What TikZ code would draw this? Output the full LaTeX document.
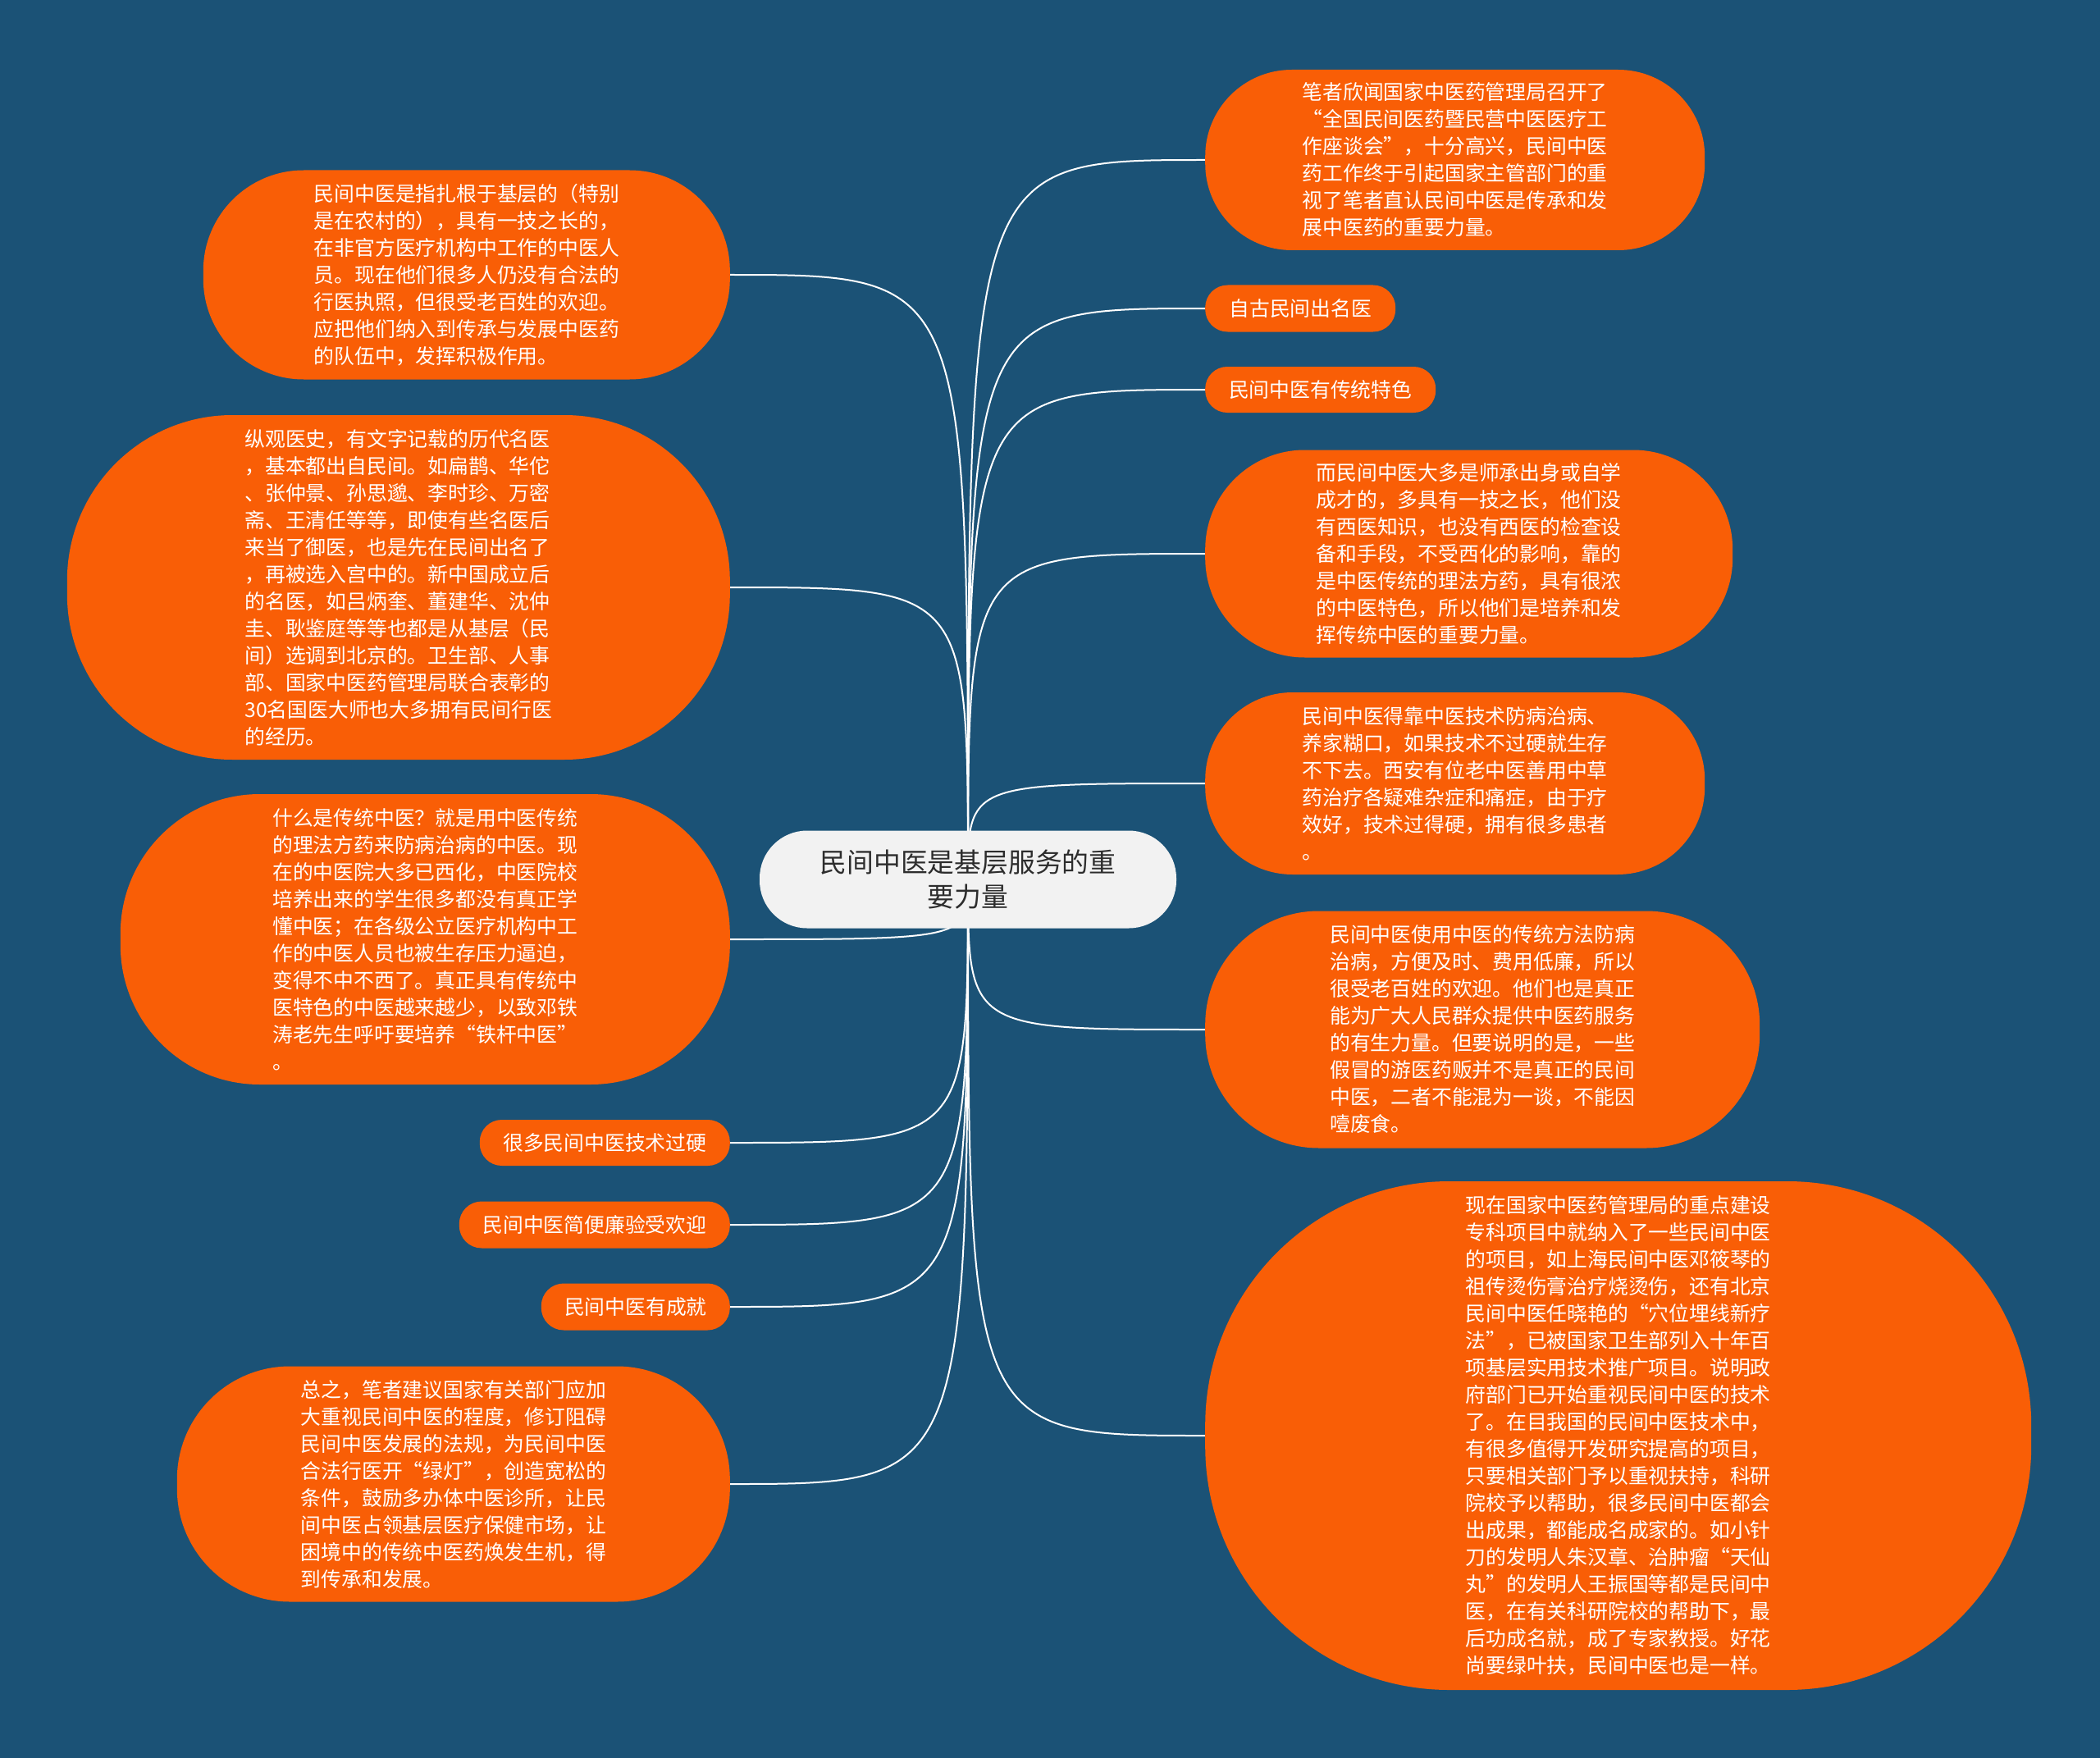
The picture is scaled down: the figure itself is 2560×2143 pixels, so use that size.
\documentclass[tikz,border=0pt]{standalone}
\usepackage{fontspec}
\setmainfont{Noto Sans CJK SC}
\usepackage{tikz}
\usepackage{xcolor}
\definecolor{bgblue}{RGB}{27,82,118}
\definecolor{leaforange}{RGB}{249,94,6}
\definecolor{rootgray}{RGB}{242,242,242}
\definecolor{roottext}{RGB}{45,45,45}
\newcommand{\leaffont}{\fontsize{24.8}{33}\selectfont}
\newcommand{\rootfont}{\fontsize{32.8}{42}\selectfont}
\pgfdeclarelayer{back}
\pgfsetlayers{back,main}

\begin{document}
\begin{tikzpicture}[x=1pt,y=-1pt,
  leaf/.style={fill=leaforange, text=white, font=\leaffont, align=left, inner sep=0pt},
  pill/.style 2 args={minimum width=#1pt, minimum height=#2pt, rounded corners=0.48*#2pt},
  link/.style={draw=white, line width=2pt}]
\useasboundingbox (0,0) rectangle (2560,2143);
% root
\node[fill=rootgray, text=roottext, font=\rootfont, align=center, inner sep=0pt,
  minimum width=508pt, minimum height=119pt, rounded corners=58pt] (root) at (1180,1072)
  {民间中医是基层服务的重\\要力量};
% left branches
\node[leaf, pill={642}{255}, anchor=east] (l1) at (890,335) {民间中医是指扎根于基层的（特别\\
是在农村的），具有一技之长的，\\
在非官方医疗机构中工作的中医人\\
员。现在他们很多人仍没有合法的\\
行医执照，但很受老百姓的欢迎。\\
应把他们纳入到传承与发展中医药\\
的队伍中，发挥积极作用。};
\node[leaf, pill={808}{420}, anchor=east] (l2) at (890,716) {纵观医史，有文字记载的历代名医\\
，基本都出自民间。如扁鹊、华佗\\
、张仲景、孙思邈、李时珍、万密\\
斋、王清任等等，即使有些名医后\\
来当了御医，也是先在民间出名了\\
，再被选入宫中的。新中国成立后\\
的名医，如吕炳奎、董建华、沈仲\\
圭、耿鉴庭等等也都是从基层（民\\
间）选调到北京的。卫生部、人事\\
部、国家中医药管理局联合表彰的\\
30名国医大师也大多拥有民间行医\\
的经历。};
\node[leaf, pill={743}{354}, anchor=east] (l3) at (890,1145) {什么是传统中医？就是用中医传统\\
的理法方药来防病治病的中医。现\\
在的中医院大多已西化，中医院校\\
培养出来的学生很多都没有真正学\\
懂中医；在各级公立医疗机构中工\\
作的中医人员也被生存压力逼迫，\\
变得不中不西了。真正具有传统中\\
医特色的中医越来越少，以致邓铁\\
涛老先生呼吁要培养“铁杆中医”\\
。};
\node[leaf, pill={305}{56}, anchor=east] (l4) at (890,1393) {很多民间中医技术过硬};
\node[leaf, pill={330}{57}, anchor=east] (l5) at (890,1493) {民间中医简便廉验受欢迎};
\node[leaf, pill={230}{57}, anchor=east] (l6) at (890,1593) {民间中医有成就};
\node[leaf, pill={674}{287}, anchor=east] (l7) at (890,1809) {总之，笔者建议国家有关部门应加\\
大重视民间中医的程度，修订阻碍\\
民间中医发展的法规，为民间中医\\
合法行医开“绿灯”，创造宽松的\\
条件，鼓励多办体中医诊所，让民\\
间中医占领基层医疗保健市场，让\\
困境中的传统中医药焕发生机，得\\
到传承和发展。};
% right branches
\node[leaf, pill={609}{220}, anchor=west] (r1) at (1469,195) {笔者欣闻国家中医药管理局召开了\\
“全国民间医药暨民营中医医疗工\\
作座谈会”，十分高兴，民间中医\\
药工作终于引起国家主管部门的重\\
视了笔者直认民间中医是传承和发\\
展中医药的重要力量。};
\node[leaf, pill={232}{57}, anchor=west] (r2) at (1469,376) {自古民间出名医};
\node[leaf, pill={281}{56}, anchor=west] (r3) at (1469,475) {民间中医有传统特色};
\node[leaf, pill={643}{253}, anchor=west] (r4) at (1469,675) {而民间中医大多是师承出身或自学\\
成才的，多具有一技之长，他们没\\
有西医知识，也没有西医的检查设\\
备和手段，不受西化的影响，靠的\\
是中医传统的理法方药，具有很浓\\
的中医特色，所以他们是培养和发\\
挥传统中医的重要力量。};
\node[leaf, pill={609}{222}, anchor=west] (r5) at (1469,955) {民间中医得靠中医技术防病治病、\\
养家糊口，如果技术不过硬就生存\\
不下去。西安有位老中医善用中草\\
药治疗各疑难杂症和痛症，由于疗\\
效好，技术过得硬，拥有很多患者\\
。};
\node[leaf, pill={676}{289}, anchor=west] (r6) at (1469,1255) {民间中医使用中医的传统方法防病\\
治病，方便及时、费用低廉，所以\\
很受老百姓的欢迎。他们也是真正\\
能为广大人民群众提供中医药服务\\
的有生力量。但要说明的是，一些\\
假冒的游医药贩并不是真正的民间\\
中医，二者不能混为一谈，不能因\\
噎废食。};
\node[leaf, pill={1007}{620}, anchor=west] (r7) at (1469,1750) {现在国家中医药管理局的重点建设\\
专科项目中就纳入了一些民间中医\\
的项目，如上海民间中医邓筱琴的\\
祖传烫伤膏治疗烧烫伤，还有北京\\
民间中医任晓艳的“穴位埋线新疗\\
法”，已被国家卫生部列入十年百\\
项基层实用技术推广项目。说明政\\
府部门已开始重视民间中医的技术\\
了。在目我国的民间中医技术中，\\
有很多值得开发研究提高的项目，\\
只要相关部门予以重视扶持，科研\\
院校予以帮助，很多民间中医都会\\
出成果，都能成名成家的。如小针\\
刀的发明人朱汉章、治肿瘤“天仙\\
丸”的发明人王振国等都是民间中\\
医，在有关科研院校的帮助下，最\\
后功成名就，成了专家教授。好花\\
尚要绿叶扶，民间中医也是一样。};
% background and connectors
\begin{pgfonlayer}{back}
\fill[bgblue] (0,0) rectangle (2560,2143);
\draw[link] (root.center) .. controls (root.center |- l1.east) .. (l1.east);
\draw[link] (root.center) .. controls (root.center |- l2.east) .. (l2.east);
\draw[link] (root.center) .. controls (root.center |- l3.east) .. (l3.east);
\draw[link] (root.center) .. controls (root.center |- l4.east) .. (l4.east);
\draw[link] (root.center) .. controls (root.center |- l5.east) .. (l5.east);
\draw[link] (root.center) .. controls (root.center |- l6.east) .. (l6.east);
\draw[link] (root.center) .. controls (root.center |- l7.east) .. (l7.east);
\draw[link] (root.center) .. controls (root.center |- r1.west) .. (r1.west);
\draw[link] (root.center) .. controls (root.center |- r2.west) .. (r2.west);
\draw[link] (root.center) .. controls (root.center |- r3.west) .. (r3.west);
\draw[link] (root.center) .. controls (root.center |- r4.west) .. (r4.west);
\draw[link] (root.center) .. controls (root.center |- r5.west) .. (r5.west);
\draw[link] (root.center) .. controls (root.center |- r6.west) .. (r6.west);
\draw[link] (root.center) .. controls (root.center |- r7.west) .. (r7.west);
\end{pgfonlayer}
\end{tikzpicture}
\end{document}
